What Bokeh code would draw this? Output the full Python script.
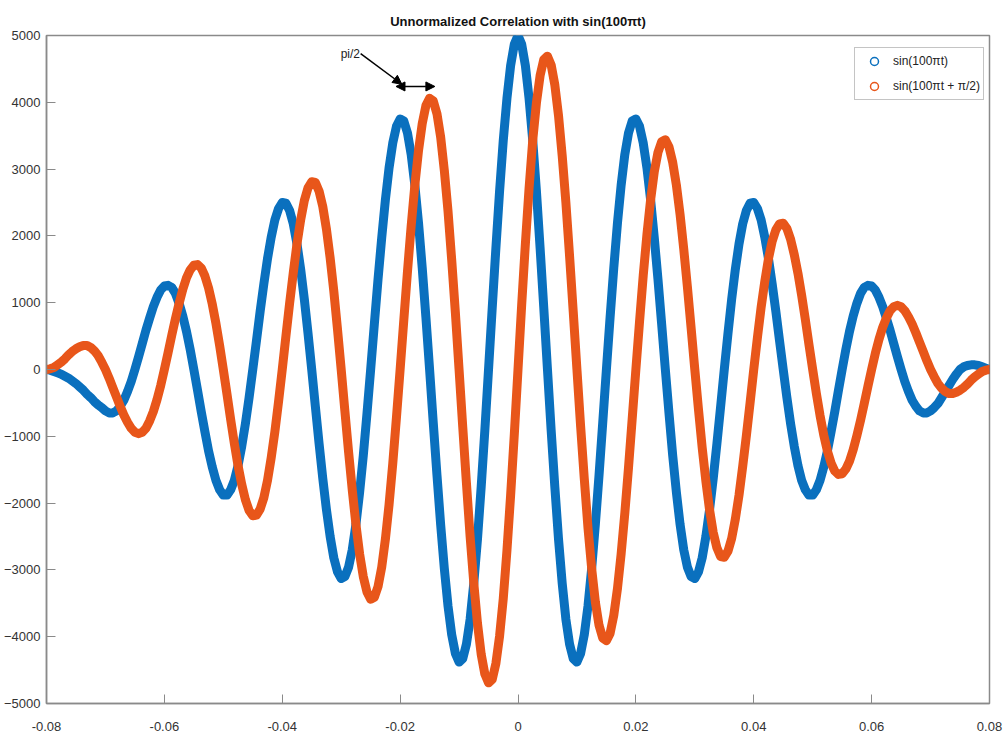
from bokeh.plotting import figure
from bokeh.models import (FixedTicker, CustomJSTickFormatter, Legend, LegendItem,
                          Arrow, NormalHead, Label, Range1d)
from bokeh.embed import file_html
from bokeh.resources import INLINE

# ---- data ----
lag = [round(-0.08 + 0.000625 * i, 6) for i in range(257)]

corr_sin = [
    0, -10, -30, -50, -70, -100, -130, -170,
    -210, -260, -310, -370, -420, -480, -530, -570,
    -620, -650, -650, -620, -550, -460, -330, -180,
    0, 190, 390, 590, 770, 940, 1080, 1190,
    1250, 1260, 1230, 1140, 990, 800, 570, 300,
    0, -310, -630, -930, -1220, -1460, -1660, -1800,
    -1880, -1880, -1800, -1660, -1440, -1150, -810, -420,
    0, 430, 870, 1280, 1660, 1980, 2240, 2410,
    2500, 2490, 2380, 2180, 1880, 1500, 1050, 540,
    0, -560, -1110, -1630, -2100, -2500, -2820, -3030,
    -3130, -3100, -2960, -2700, -2320, -1840, -1290, -660,
    0, 680, 1350, 1970, 2540, 3020, 3390, 3640,
    3750, 3720, 3540, 3220, 2760, 2190, 1520, 780,
    0, -800, -1580, -2320, -2980, -3540, -3970, -4250,
    -4380, -4330, -4110, -3740, -3200, -2540, -1760, -910,
    0, 920, 1820, 2670, 3430, 4060, 4550, 4870,
    5000,
    4870, 4550, 4060, 3430, 2670, 1820, 920, 0,
    -910, -1760, -2540, -3200, -3740, -4110, -4330, -4380,
    -4250, -3970, -3540, -2980, -2320, -1580, -800, 0,
    780, 1520, 2190, 2760, 3220, 3540, 3720, 3750,
    3640, 3390, 3020, 2540, 1970, 1350, 680, 0,
    -660, -1290, -1840, -2320, -2700, -2960, -3100, -3130,
    -3030, -2820, -2500, -2100, -1630, -1110, -560, 0,
    540, 1050, 1500, 1880, 2180, 2380, 2490, 2500,
    2410, 2240, 1980, 1660, 1280, 870, 430, 0,
    -420, -810, -1150, -1440, -1660, -1800, -1880, -1880,
    -1800, -1660, -1460, -1220, -930, -630, -310, 0,
    300, 570, 800, 990, 1140, 1230, 1260, 1250,
    1190, 1080, 940, 770, 590, 390, 190, 0,
    -180, -330, -460, -550, -620, -650, -650, -620,
    -570, -510, -420, -330, -240, -150, -70, 0,
    40, 60, 70, 70, 60, 40, 20, 0,
]

corr_shift = [
    0, 10, 30, 70, 110, 160, 220, 270,
    310, 340, 360, 360, 330, 280, 210, 110,
    0, -130, -270, -410, -550, -680, -790, -880,
    -940, -960, -940, -880, -770, -630, -450, -240,
    0, 250, 510, 760, 990, 1200, 1370, 1490,
    1560, 1570, 1520, 1400, 1220, 980, 690, 360,
    0, -370, -750, -1110, -1440, -1720, -1950, -2110,
    -2190, -2180, -2090, -1920, -1660, -1320, -930, -480,
    0, 500, 990, 1450, 1880, 2240, 2530, 2720,
    2810, 2800, 2670, 2440, 2100, 1670, 1170, 600,
    0, -620, -1230, -1800, -2320, -2760, -3100, -3330,
    -3440, -3410, -3250, -2960, -2540, -2020, -1410, -720,
    0, 740, 1470, 2150, 2760, 3280, 3680, 3950,
    4060, 4020, 3830, 3480, 2980, 2370, 1640, 850,
    0, -860, -1700, -2500, -3200, -3800, -4260, -4560,
    -4690, -4640, -4400, -3990, -3430, -2710, -1880, -970,
    0,
    970, 1880, 2710, 3430, 3990, 4400, 4640, 4690,
    4560, 4260, 3800, 3200, 2500, 1700, 860, 0,
    -850, -1640, -2370, -2980, -3480, -3830, -4020, -4060,
    -3950, -3680, -3280, -2760, -2150, -1470, -740, 0,
    720, 1410, 2020, 2540, 2960, 3250, 3410, 3440,
    3330, 3100, 2760, 2320, 1800, 1230, 620, 0,
    -600, -1170, -1670, -2100, -2440, -2670, -2800, -2810,
    -2720, -2530, -2240, -1880, -1450, -990, -500, 0,
    480, 930, 1320, 1660, 1920, 2090, 2180, 2190,
    2110, 1950, 1720, 1440, 1110, 750, 370, 0,
    -360, -690, -980, -1220, -1400, -1520, -1570, -1560,
    -1490, -1370, -1200, -990, -760, -510, -250, 0,
    240, 450, 630, 770, 880, 940, 960, 940,
    880, 790, 680, 550, 410, 270, 130, 0,
    -110, -210, -280, -330, -360, -360, -340, -310,
    -270, -220, -160, -110, -70, -30, -10, 0,
]

x_ticks = [-0.08, -0.06, -0.04, -0.02, 0, 0.02, 0.04, 0.06, 0.08]
y_ticks = [-5000, -4000, -3000, -2000, -1000, 0, 1000, 2000, 3000, 4000, 5000]
series_labels = ["sin(100πt)", "sin(100πt + π/2)"]
title_text = "Unnormalized Correlation with sin(100πt)"
note_text = "pi/2"

BLUE = "#0a70be"
ORANGE = "#E8561A"
FONT = "Liberation Sans"
GRAY = "#8a8a8a"

p = figure(width=1007, height=738, output_backend="svg", toolbar_location=None,
           x_range=Range1d(-0.08, 0.08), y_range=Range1d(-5000, 5000),
           min_border_left=42, min_border_right=18, min_border_top=35, min_border_bottom=35,
           title=title_text)
p.background_fill_color = "white"
p.border_fill_color = "white"
p.outline_line_color = GRAY
p.outline_line_width = 1.5
p.xgrid.visible = False
p.ygrid.visible = False

p.title.align = "center"
p.title.text_font = FONT
p.title.text_font_size = "13px"
p.title.text_font_style = "bold"
p.title.text_color = "#111111"
p.title.standoff = 13

for ax in (p.xaxis[0], p.yaxis[0]):
    ax.axis_line_color = GRAY
    ax.axis_line_width = 1.5
    ax.major_tick_in = 9
    ax.major_tick_out = 0
    ax.major_tick_line_color = GRAY
    ax.major_tick_line_width = 1
    ax.minor_tick_line_color = None
    ax.major_label_text_font = FONT
    ax.major_label_text_font_size = "13px"
    ax.major_label_text_color = "#333333"

p.xaxis.ticker = FixedTicker(ticks=x_ticks)
p.xaxis.formatter = CustomJSTickFormatter(code="return Math.abs(tick) < 1e-9 ? '0' : tick.toFixed(2);")
p.xaxis.major_label_standoff = 18
p.yaxis.ticker = FixedTicker(ticks=y_ticks)
p.yaxis.major_label_standoff = 6

# circle markers (as in the original 'o' plot) hidden under the thick lines
m1 = p.scatter(lag, corr_sin, marker="circle", size=6, fill_color=None,
               line_color=BLUE, line_width=1.5)
r1 = p.line(lag, corr_sin, line_color=BLUE, line_width=9, line_join="round", line_cap="round")
m2 = p.scatter(lag, corr_shift, marker="circle", size=6, fill_color=None,
               line_color=ORANGE, line_width=1.5)
r2 = p.line(lag, corr_shift, line_color=ORANGE, line_width=9, line_join="round", line_cap="round")

legend = Legend(items=[LegendItem(label=series_labels[0], renderers=[m1]),
                       LegendItem(label=series_labels[1], renderers=[m2])],
                location=(808, 603))
legend.border_line_color = GRAY
legend.border_line_width = 1.5
legend.background_fill_color = "white"
legend.label_text_font = FONT
legend.label_text_font_size = "12px"
legend.label_text_color = "#222222"
legend.padding = 3
legend.spacing = 5
legend.glyph_width = 32
legend.glyph_height = 20
legend.label_height = 20
legend.label_standoff = 3
legend.margin = 0
p.add_layout(legend)

# annotation: pi/2 with arrows
p.add_layout(Arrow(end=NormalHead(size=9, fill_color="black", line_color="black"),
                   x_start=-0.0267, y_start=4730, x_end=-0.0197, y_end=4270,
                   line_color="black", line_width=1.5))
p.add_layout(Arrow(start=NormalHead(size=9, fill_color="black", line_color="black"),
                   end=NormalHead(size=9, fill_color="black", line_color="black"),
                   x_start=-0.0207, y_start=4237, x_end=-0.0141, y_end=4237,
                   line_color="black", line_width=1.5))
p.add_layout(Label(x=-0.0268, y=4720, text=note_text, text_align="right",
                   text_baseline="middle", text_font=FONT,
                   text_font_size="12px", text_color="#222222"))

open("out.html", "w").write(file_html(p, INLINE))
